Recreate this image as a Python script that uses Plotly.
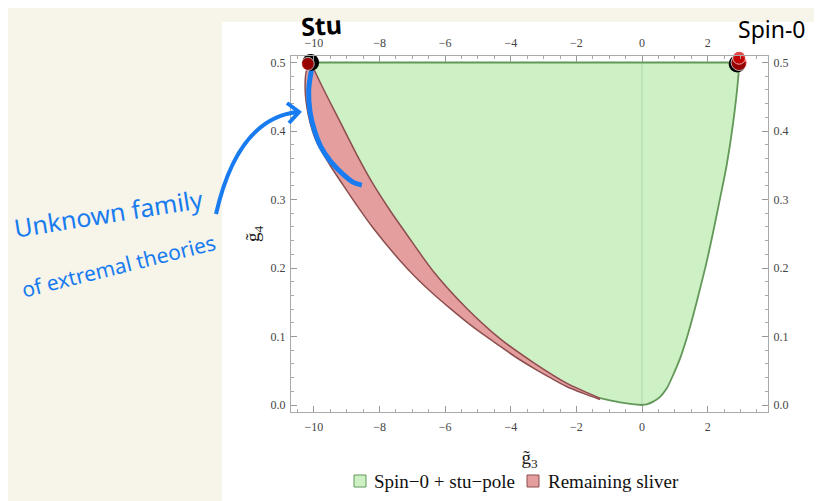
import plotly.graph_objects as go

# ---------------- data ----------------
# right boundary of the green region (spin-0 side), top -> bottom
right_x = [2.96, 2.94, 2.78, 2.58, 2.38, 2.17, 1.97, 1.77, 1.56, 1.36, 1.16, 0.95, 0.75, 0.55, 0.34, 0.14, 0.0]
right_y = [0.5, 0.482, 0.413, 0.350, 0.302, 0.253, 0.209, 0.170, 0.131, 0.097, 0.068, 0.044, 0.024, 0.012, 0.005, 0.001, 0.0]
# left boundary of the green region, bottom -> top
inner_x = [0.0, -0.67, -1.28, -2.30, -3.31, -4.33, -5.34, -6.36, -7.17, -7.68, -8.19, -8.70, -9.21, -9.72, -10.1]
inner_y = [0.0, 0.004, 0.010, 0.032, 0.062, 0.097, 0.141, 0.195, 0.249, 0.284, 0.322, 0.366, 0.414, 0.462, 0.5]
# outer boundary of the remaining sliver, top -> bottom
outer_x = [-10.1, -10.22, -10.27, -10.17, -9.92, -9.51, -9.11, -8.70, -8.19, -7.38, -6.87, -6.36,
           -5.85, -5.34, -4.84, -4.33, -3.82, -3.31, -2.80, -2.30, -1.79, -1.28]
outer_y = [0.5, 0.49, 0.462, 0.423, 0.384, 0.350, 0.321, 0.292, 0.258, 0.211, 0.185, 0.162,
           0.141, 0.121, 0.103, 0.086, 0.069, 0.054, 0.040, 0.027, 0.017, 0.008]
# hand-drawn blue stroke along the sliver
stroke_x = [-10.07, -10.16, -10.12, -9.98, -9.80, -9.50, -9.12, -8.80, -8.54]
stroke_y = [0.491, 0.460, 0.428, 0.400, 0.378, 0.356, 0.337, 0.325, 0.321]
# special points
stu_x, stu_y = -10.1, 0.5
spin0_x, spin0_y = 2.96, 0.5

legend_names = ["Spin\u22120 + stu\u2212pole", "Remaining sliver"]
x_ticks = [-10, -8, -6, -4, -2, 0, 2]
y_ticks = [0.0, 0.1, 0.2, 0.3, 0.4, 0.5]

# ---------------- style ----------------
GREEN_FILL = "rgb(205,240,197)"
GREEN_LINE = "rgb(98,152,88)"
RED_FILL = "rgb(229,158,158)"
RED_LINE = "rgb(140,78,78)"
BLUE = "rgb(24,124,240)"
SERIF = "Liberation Serif"
CREAM = "rgb(247,244,233)"

OFF = 8                     # page offset of the figure inside the window
W, H = 822 - OFF, 501 - OFF
L, R, T, B = 291, 768, 56, 412  # plot frame in window pixels


def pxx(x):
    return (x - L) / (R - L)


def pxy(y):
    return (B - y) / (B - T)


green_x = [stu_x, spin0_x] + right_x[1:] + inner_x[1:]
green_y = [stu_y, spin0_y] + right_y[1:] + inner_y[1:]

inner_left_x = [x for x in inner_x if x <= -1.28]
inner_left_y = [y for x, y in zip(inner_x, inner_y) if x <= -1.28]
red_x = outer_x + inner_left_x
red_y = outer_y + inner_left_y

fig = go.Figure()
# fills
fig.add_trace(go.Scatter(x=green_x, y=green_y, fill="toself", fillcolor=GREEN_FILL,
                         mode="lines", line=dict(width=0), showlegend=False,
                         name=legend_names[0], hoverinfo="skip"))
fig.add_trace(go.Scatter(x=red_x, y=red_y, fill="toself", fillcolor=RED_FILL,
                         mode="lines", line=dict(width=0), showlegend=False,
                         name=legend_names[1], hoverinfo="skip"))
# boundary lines
fig.add_trace(go.Scatter(x=[stu_x, spin0_x], y=[stu_y, spin0_y], mode="lines",
                         line=dict(color=GREEN_LINE, width=1.8), showlegend=False, hoverinfo="skip"))
fig.add_trace(go.Scatter(x=right_x, y=right_y, mode="lines",
                         line=dict(color=GREEN_LINE, width=1.8, shape="spline", smoothing=0.8),
                         showlegend=False, hoverinfo="skip"))
fig.add_trace(go.Scatter(x=inner_x[:3], y=inner_y[:3], mode="lines",
                         line=dict(color=GREEN_LINE, width=1.8, shape="spline", smoothing=0.8),
                         showlegend=False, hoverinfo="skip"))
fig.add_trace(go.Scatter(x=inner_left_x, y=inner_left_y, mode="lines",
                         line=dict(color=RED_LINE, width=1.5, shape="spline", smoothing=0.8),
                         showlegend=False, hoverinfo="skip"))
fig.add_trace(go.Scatter(x=outer_x, y=outer_y, mode="lines",
                         line=dict(color=RED_LINE, width=1.5, shape="spline", smoothing=0.8),
                         showlegend=False, hoverinfo="skip"))
# blue hand stroke
fig.add_trace(go.Scatter(x=stroke_x, y=stroke_y, mode="lines",
                         line=dict(color=BLUE, width=5, shape="spline"),
                         showlegend=False, hoverinfo="skip"))
# endpoint dots
fig.add_trace(go.Scatter(x=[stu_x, spin0_x - 0.06], y=[stu_y, spin0_y - 0.002], mode="markers",
                         marker=dict(color="black", size=17), showlegend=False,
                         hoverinfo="skip", cliponaxis=False))
fig.add_trace(go.Scatter(x=[stu_x - 0.09, spin0_x, spin0_x], y=[stu_y - 0.002, spin0_y, spin0_y + 0.007],
                         mode="markers", marker=dict(color="rgb(214,0,0)", size=[13, 16, 13]),
                         showlegend=False, hoverinfo="skip", cliponaxis=False))
# invisible trace for top/right axes
fig.add_trace(go.Scatter(x=[0], y=[0], xaxis="x2", yaxis="y2", mode="markers",
                         marker=dict(opacity=0), showlegend=False, hoverinfo="skip"))

xr = [-10.70, 3.84]
yr = [-0.0102, 0.5095]
tickfont = dict(family=SERIF, size=12, color="#444")
common = dict(showgrid=False, zeroline=False, showline=True, linecolor="#aaa", linewidth=1,
              ticks="inside", tickcolor="#999", tickfont=tickfont)
xminor = dict(dtick=0.5, ticklen=3, ticks="inside", tickcolor="#aaa", showgrid=False)
yminor = dict(dtick=0.02, ticklen=3, ticks="inside", tickcolor="#aaa", showgrid=False)

fig.update_layout(
    width=W, height=H,
    margin=dict(l=L - OFF, r=822 - R, t=T - OFF, b=501 - B, pad=0),
    paper_bgcolor=CREAM,
    plot_bgcolor="white",
    showlegend=False,
    xaxis=dict(range=xr, tickvals=x_ticks, ticklen=6, minor=xminor, ticklabelstandoff=4,
               title=dict(text="g\u0303<sub>3</sub>", font=dict(family=SERIF, size=19, color="#222"),
                          standoff=17),
               **common),
    yaxis=dict(range=yr, tickvals=y_ticks, tickformat=".1f", ticklen=6, minor=yminor,
               ticklabelstandoff=2,
               title=dict(text="g\u0303<sub>4</sub>", font=dict(family=SERIF, size=19, color="#222"),
                          standoff=5),
               **common),
    xaxis2=dict(range=xr, overlaying="x", side="top", anchor="y", tickvals=x_ticks, ticklen=6,
                minor=xminor, ticklabelstandoff=3, **common),
    yaxis2=dict(range=yr, overlaying="y", side="right", anchor="x", tickvals=y_ticks,
                tickformat=".1f", ticklen=6, minor=yminor, ticklabelstandoff=2, **common),
)

# white panel behind the chart
fig.add_shape(type="rect", xref="paper", yref="paper", x0=pxx(222), x1=pxx(830),
              y0=pxy(510), y1=pxy(22), fillcolor="white", line=dict(width=0), layer="below")
# faint axis at g3 = 0
fig.add_shape(type="line", xref="x", yref="y", x0=0, x1=0, y0=0, y1=0.5,
              line=dict(color="rgba(90,140,90,0.25)", width=1), layer="above")
# hand-drawn arrow
fig.add_shape(type="path", xref="paper", yref="paper",
              path=f"M {pxx(216)} {pxy(214)} Q {pxx(238)} {pxy(118)} {pxx(298)} {pxy(112)}",
              line=dict(color=BLUE, width=4))
fig.add_shape(type="path", xref="paper", yref="paper",
              path=f"M {pxx(287)} {pxy(103)} L {pxx(299)} {pxy(112)} L {pxx(289)} {pxy(123)}",
              line=dict(color=BLUE, width=4))

# legend (drawn by hand to match the reference spacing)
legend_fill = [GREEN_FILL, RED_FILL]
legend_edge = [GREEN_LINE, RED_LINE]
legend_sq_x = [354, 527]
legend_txt_x = [372, 546]
for name, fc, ec, sx, tx in zip(legend_names, legend_fill, legend_edge, legend_sq_x, legend_txt_x):
    fig.add_shape(type="rect", xref="paper", yref="paper", x0=pxx(sx), x1=pxx(sx + 12),
                  y0=pxy(487), y1=pxy(475), fillcolor=fc, line=dict(color=ec, width=1))
    fig.add_annotation(xref="paper", yref="paper", x=pxx(tx), y=pxy(481), text=name,
                       xanchor="left", yanchor="middle", showarrow=False,
                       font=dict(family=SERIF, size=19, color="#111"))

# handwritten labels
fig.add_annotation(xref="paper", yref="paper", x=pxx(321), y=pxy(25), text="<b>Stu</b>",
                   xanchor="center", yanchor="middle", showarrow=False,
                   font=dict(family="Noto Sans", size=25, color="black"), textangle=-4)
fig.add_annotation(xref="paper", yref="paper", x=pxx(771), y=pxy(29), text="Spin-0",
                   xanchor="center", yanchor="middle", showarrow=False,
                   font=dict(family="Noto Sans", size=23, color="black"))
fig.add_annotation(xref="paper", yref="paper", x=pxx(108), y=pxy(213), text="Unknown family",
                   xanchor="center", yanchor="middle", showarrow=False,
                   font=dict(family="Noto Sans", size=25, color=BLUE), textangle=-9)
fig.add_annotation(xref="paper", yref="paper", x=pxx(118), y=pxy(266), text="of extremal theories",
                   xanchor="center", yanchor="middle", showarrow=False,
                   font=dict(family="Noto Sans", size=21, color=BLUE), textangle=-14)

fig.write_html("out.html")
